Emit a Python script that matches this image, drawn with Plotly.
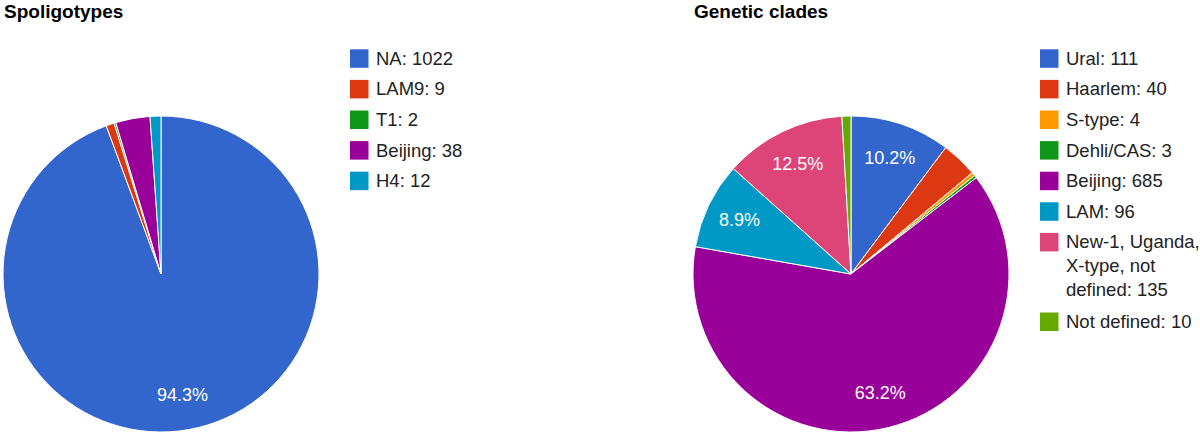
import textwrap
import plotly.graph_objects as go

# ---- data ----
spo_labels = ["NA", "LAM9", "T1", "Beijing", "H4"]
spo_values = [1022, 9, 2, 38, 12]
spo_pct_text = ["94.3%", "", "", "", ""]
spo_colors = ["#3366cc", "#dc3912", "#109618", "#990099", "#0099c6"]

clade_labels = ["Ural", "Haarlem", "S-type", "Dehli/CAS", "Beijing", "LAM",
                "New-1, Uganda, X-type, not defined", "Not defined"]
clade_values = [111, 40, 4, 3, 685, 96, 135, 10]
clade_pct_text = ["10.2%", "", "", "", "63.2%", "8.9%", "12.5%", ""]
clade_colors = ["#3366cc", "#dc3912", "#ff9900", "#109618", "#990099",
                "#0099c6", "#dd4477", "#66aa00"]

titles = ["Spoligotypes", "Genetic clades"]

W, H = 1200, 436
FONT = "Liberation Sans, Arial, Helvetica, sans-serif"


def px(x):
    return x / W


def py(y):
    return 1 - y / H


fig = go.Figure()

pies = [
    (spo_labels, spo_values, spo_pct_text, spo_colors, (3, 319)),
    (clade_labels, clade_values, clade_pct_text, clade_colors, (693, 1009)),
]
for labels, values, texts, colors, (x0, x1) in pies:
    dom = dict(x=[px(x0), px(x1)], y=[py(432), py(116)])
    # filled pie
    fig.add_trace(go.Pie(
        labels=labels, values=values,
        textinfo="none",
        marker=dict(colors=colors, line=dict(color="white", width=1)),
        sort=False, direction="clockwise", rotation=0,
        domain=dict(dom),
        showlegend=False, hoverinfo="label+value+percent",
    ))
    # transparent ring carrying the percentage labels (places them at ~3/4 radius)
    fig.add_trace(go.Pie(
        labels=labels, values=values, text=texts,
        textinfo="text", textposition="inside",
        insidetextorientation="horizontal",
        textfont=dict(color="white", size=18, family=FONT),
        marker=dict(colors=["rgba(0,0,0,0)"] * len(values),
                    line=dict(color="rgba(0,0,0,0)", width=0)),
        hole=0.55,
        sort=False, direction="clockwise", rotation=0,
        domain=dict(dom),
        showlegend=False, hoverinfo="label+value+percent",
    ))

shapes = []
annotations = []

# titles
for title, x0 in zip(titles, [2, 692]):
    annotations.append(dict(
        text="<b>" + title + "</b>", x=px(x0), y=py(11),
        xref="paper", yref="paper", xanchor="left", yanchor="middle",
        showarrow=False, font=dict(size=19, color="#000000", family=FONT),
    ))

# legends
ITEM = 30.6
LINE = 24.5
SQ = 18.5
for labels, values, colors, sx in [
    (spo_labels, spo_values, spo_colors, 350),
    (clade_labels, clade_values, clade_colors, 1040),
]:
    top = 49.3
    for lab, val, col in zip(labels, values, colors):
        lines = textwrap.wrap(f"{lab}: {val}", width=15)
        shapes.append(dict(
            type="rect", xref="paper", yref="paper",
            x0=px(sx), x1=px(sx + SQ), y0=py(top + SQ), y1=py(top),
            fillcolor=col, line=dict(width=0),
        ))
        annotations.append(dict(
            text="<br>".join(lines), x=px(sx + 24), y=py(top - 3.5),
            xref="paper", yref="paper", xanchor="left", yanchor="top",
            align="left", showarrow=False,
            font=dict(size=18.5, color="#222222", family=FONT),
        ))
        top += ITEM + LINE * (len(lines) - 1)

fig.update_layout(
    width=W, height=H, autosize=False,
    margin=dict(l=0, r=0, t=0, b=0),
    paper_bgcolor="white", plot_bgcolor="white",
    shapes=shapes, annotations=annotations,
)

fig.write_html("out.html", config={"displayModeBar": False},
               post_script="document.body.style.margin='0';")
